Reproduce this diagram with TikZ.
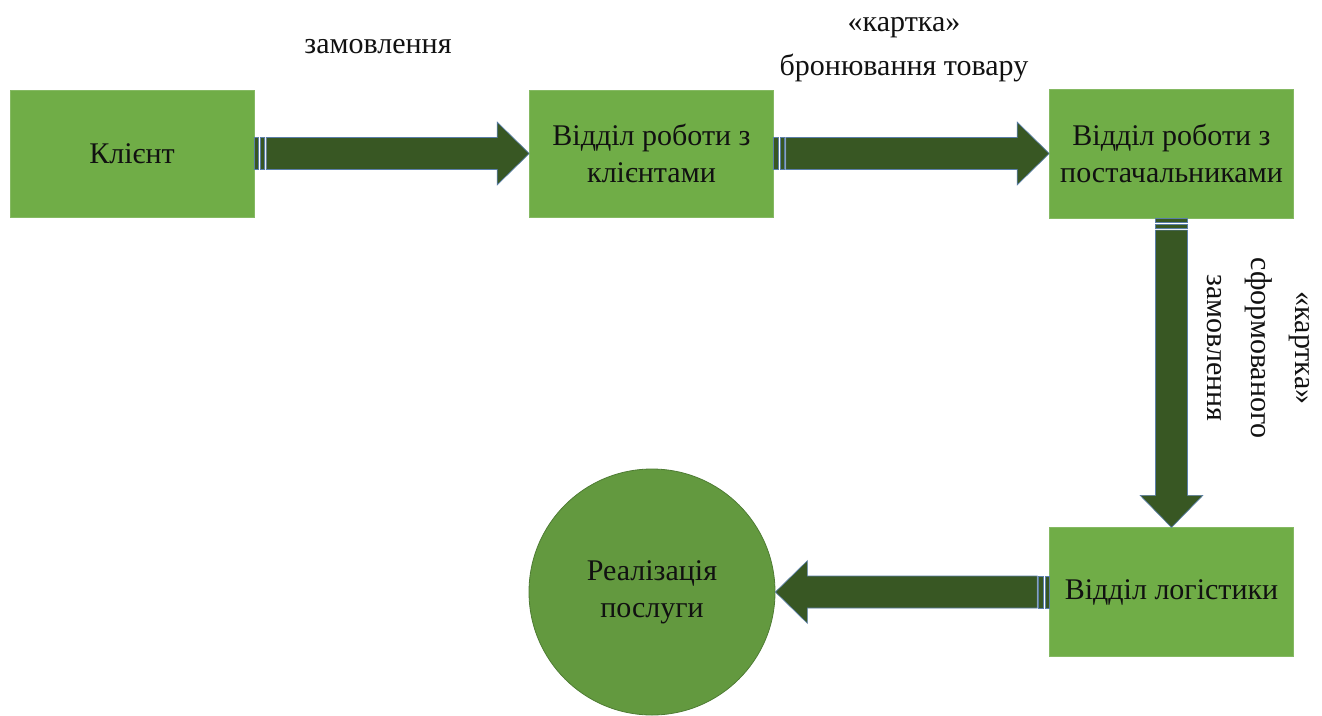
\documentclass[tikz,border=0pt]{standalone}
\usepackage{fontspec}
\setmainfont{Liberation Serif}
\newfontfamily\tnrfont{Liberation Serif}
\usetikzlibrary{calc}
\definecolor{boxgreen}{HTML}{70AD47}
\definecolor{circgreen}{HTML}{63993F}
\definecolor{circline}{HTML}{4E7C33}
\definecolor{arrowfill}{HTML}{385723}
\definecolor{arrowline}{HTML}{5A7EA8}
\definecolor{txt}{HTML}{111111}
\newcommand\stripedblockarrow[2]{%
  \path (#1); \pgfgetlastxy{\sbaxa}{\sbaya}%
  \path (#2); \pgfgetlastxy{\sbaxb}{\sbayb}%
  \pgfmathsetmacro\sbaang{atan2(\sbayb-\sbaya,\sbaxb-\sbaxa)}%
  \pgfmathsetmacro\sbalen{veclen(\sbaxb-\sbaxa,\sbayb-\sbaya)}%
  \begin{scope}[shift={(\sbaxa,\sbaya)}, rotate=\sbaang]
    \fill[white] (0pt,-12pt) rectangle (9pt,12pt);
    \filldraw[arrowpart] (0pt,-12pt) rectangle (3.3pt,12pt);
    \filldraw[arrowpart] (4.6pt,-12pt) rectangle (7.9pt,12pt);
    \filldraw[arrowpart] (9pt,-12pt) -- (\sbalen pt-24pt,-12pt) -- (\sbalen pt-24pt,-23.5pt)
      -- (\sbalen pt,0pt) -- (\sbalen pt-24pt,23.5pt) -- (\sbalen pt-24pt,12pt) -- (9pt,12pt) -- cycle;
  \end{scope}}
\begin{document}
\begin{tikzpicture}[x=0.75pt,y=-0.75pt,
  arrowpart/.style={fill=arrowfill, draw=arrowline, line width=0.5pt, line join=miter},
  boxnode/.style={rectangle, fill=boxgreen, draw=boxgreen!85!white, line width=0.4pt,
    minimum width=183pt, minimum height=95.5pt, inner sep=0pt, align=center,
    text=txt, font=\tnrfont\fontsize{22.5pt}{27.75pt}\selectfont},
  circnode/.style={circle, fill=circgreen, draw=circline, line width=0.6pt,
    minimum size=184.5pt, inner sep=0pt, align=center,
    text=txt, font=\tnrfont\fontsize{22.5pt}{27.75pt}\selectfont},
  lbl/.style={align=center, text=txt, inner sep=0pt, font=\tnrfont\fontsize{22.5pt}{33pt}\selectfont}]
\useasboundingbox (0,0) rectangle (1322,715);
\fill[white] (0,0) rectangle (1322,715);

\node[boxnode] (klient) at (132,153.5) {Клієнт};
\node[boxnode] (vidkl) at (651.5,153.5) {Відділ роботи з\\клієнтами};
\node[boxnode, minimum height=96.5pt] (post) at (1171.5,153.5) {Відділ роботи з\\постачальниками};
\node[boxnode, minimum height=96.5pt] (log) at (1171.5,592) {Відділ логістики};
\node[circnode] (real) at (652,592) {Реалізація\\послуги};

\stripedblockarrow{klient.east}{vidkl.west}
\stripedblockarrow{vidkl.east}{post.west}
\stripedblockarrow{post.south}{log.north}
\stripedblockarrow{log.west}{real.east}

\node[lbl] (l1) at (378,47) {замовлення};
\node[lbl] (l2) at (904,50) {«картка»\\бронювання товару};
\node[lbl, rotate=-90] (l3) at (1258,348) {«картка»\\сформованого\\замовлення};
\end{tikzpicture}
\end{document}
